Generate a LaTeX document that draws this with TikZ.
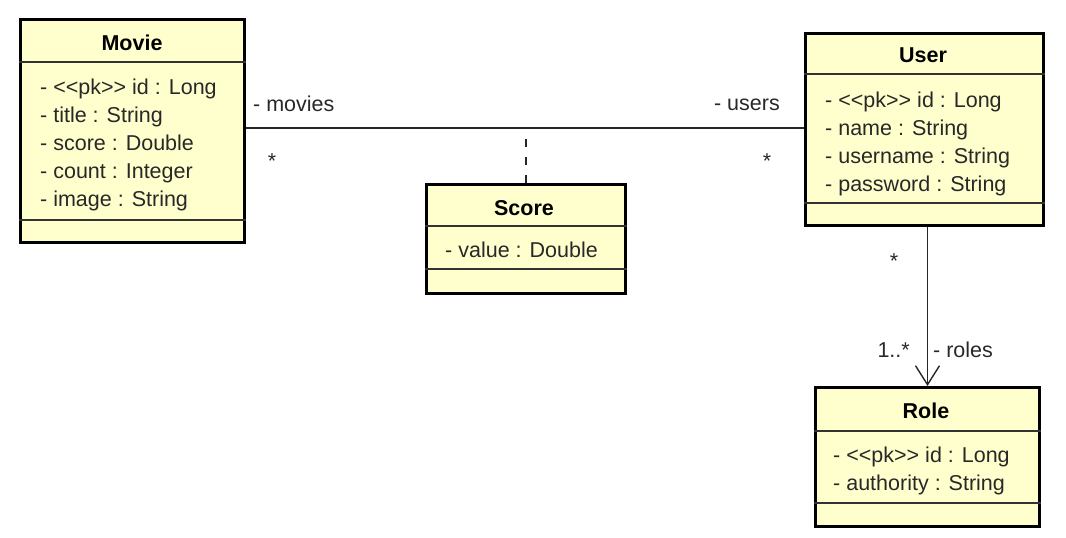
\documentclass[tikz,border=0pt]{standalone}
\usepackage{fontspec}
\newfontfamily\umlfont{Liberation Sans}
\usetikzlibrary{arrows.meta}
\definecolor{umlfill}{RGB}{255,255,206}
\definecolor{txt}{RGB}{40,40,40}
\begin{document}
\begin{tikzpicture}[x=1pt,y=-1pt,
  cls/.style={draw=black, line width=3pt, fill=umlfill, inner sep=0pt, anchor=north west},
  sepline/.style={draw=black!80, line width=1.2pt},
  ttl/.style={font=\umlfont\bfseries\fontsize{21.5}{25}\selectfont, inner sep=0pt, anchor=base},
  attr/.style={font=\umlfont\fontsize{21.5}{25}\selectfont, text=txt, inner sep=0pt, anchor=base west},
  lbl/.style={font=\umlfont\fontsize{21.5}{25}\selectfont, text=txt, inner sep=0pt},
  assoc/.style={draw=black!85, line width=1.4pt}]
\useasboundingbox (0,0) rectangle (1066,538);

% Movie
\node[cls, minimum width=224pt, minimum height=223pt] (movie) at (19,18) {};
\draw[sepline] (movie.west |- 0,62) -- (movie.east |- 0,62);
\draw[sepline] (movie.west |- 0,220) -- (movie.east |- 0,220);
\node[ttl] (movieT) at (132,50) {Movie};
\node[attr] (m1) at (40,94) {- <\kern0pt<pk>\kern0pt> id : Long};
\node[attr] (m2) at (40,122) {- title : String};
\node[attr] (m3) at (40,150) {- score : Double};
\node[attr] (m4) at (40,178) {- count : Integer};
\node[attr] (m5) at (40,206) {- image : String};

% Score
\node[cls, minimum width=199pt, minimum height=109pt] (score) at (425,183) {};
\draw[sepline] (score.west |- 0,226) -- (score.east |- 0,226);
\draw[sepline] (score.west |- 0,269) -- (score.east |- 0,269);
\node[ttl] (scoreT) at (524,215) {Score};
\node[attr] (s1) at (445,257) {- value : Double};

% User
\node[cls, minimum width=238pt, minimum height=192pt] (user) at (804,32) {};
\draw[sepline] (user.west |- 0,74) -- (user.east |- 0,74);
\draw[sepline] (user.west |- 0,203) -- (user.east |- 0,203);
\node[ttl] (userT) at (923,62) {User};
\node[attr] (u1) at (825,107) {- <\kern0pt<pk>\kern0pt> id : Long};
\node[attr] (u2) at (825,135) {- name : String};
\node[attr] (u3) at (825,163) {- username : String};
\node[attr] (u4) at (825,191) {- password : String};

% Role
\node[cls, minimum width=224pt, minimum height=139pt] (role) at (814,386) {};
\draw[sepline] (role.west |- 0,431) -- (role.east |- 0,431);
\draw[sepline] (role.west |- 0,503) -- (role.east |- 0,503);
\node[ttl] (roleT) at (926,418) {Role};
\node[attr] (r1) at (833,462) {- <\kern0pt<pk>\kern0pt> id : Long};
\node[attr] (r2) at (833,490) {- authority : String};

% Movie -- User association
\coordinate (mvR) at (movie.east |- 0,128);
\coordinate (usL) at (user.west |- 0,128);
\draw[assoc] (mvR) -- (usL);
\coordinate (amid) at (score.north |- 0,128);
\draw[assoc, dash pattern=on 8pt off 10pt] (score.north) -- (amid);
\node[lbl, anchor=base west] (lmov) at (253,111) {- movies};
\node[lbl, anchor=base east] (lusr) at (780,110) {- users};
\node[lbl, anchor=base] (st1) at (272,168) {*};
\node[lbl, anchor=base] (st2) at (767,168) {*};

% User -> Role
\coordinate (uB) at (role.north |- user.south);
\draw[assoc, -{Straight Barb[length=19pt, width=24pt, line width=1.4pt]}] (uB) -- (role.north);
\node[lbl, anchor=base] (st3) at (894,268) {*};
\node[lbl, anchor=base east] (mult) at (910,357) {1..*};
\node[lbl, anchor=base west] (lroles) at (933,357) {- roles};
\end{tikzpicture}
\end{document}
